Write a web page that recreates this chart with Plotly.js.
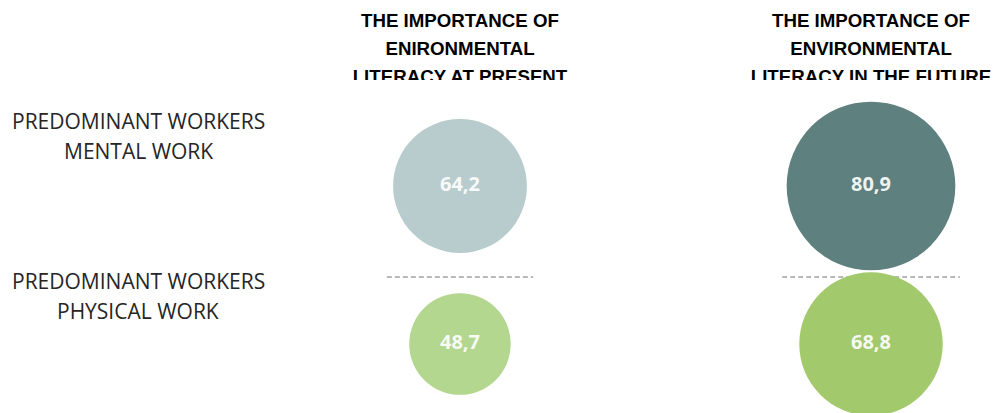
<!DOCTYPE html>
<html>
<head>
<meta charset="utf-8">
<script src="https://cdn.plot.ly/plotly-3.0.1.min.js"></script>
<style>html,body{margin:0;padding:0;background:#fff;}#chart{width:995px;height:413px;}</style>
</head>
<body>
<div id="chart"></div>
<script>
// ---- data ----
const columns = ["present", "future"];
const rows = ["mental", "physical"];
const headerPresent = ["THE IMPORTANCE OF", "ENIRONMENTAL", "LITERACY AT PRESENT"];
const headerFuture = ["THE IMPORTANCE OF", "ENVIRONMENTAL", "LITERACY IN THE FUTURE"];
const rowLabelMental = ["PREDOMINANT WORKERS", "MENTAL WORK"];
const rowLabelPhysical = ["PREDOMINANT WORKERS", "PHYSICAL WORK"];
const presentValues = [64.2, 48.7];   // mental, physical
const futureValues = [80.9, 68.8];    // mental, physical
const colors = {present: ["#b9cccd", "#b4d78f"], future: ["#5e807e", "#a3c96d"]};

// ---- helpers ----
const fmt = v => v.toFixed(1).replace(".", ",");
const rowY = {mental: 1, physical: 0};
const colX = {present: 0, future: 1};
const SIZEREF = 0.4796;

const traces = [];
[["present", presentValues], ["future", futureValues]].forEach(([col, vals]) => {
  traces.push({
    type: "scatter",
    mode: "markers+text",
    x: rows.map(() => colX[col]),
    y: rows.map(r => rowY[r]),
    text: vals.map(fmt),
    textposition: "middle center",
    textfont: {family: "Open Sans, sans-serif", size: 20, color: "rgba(255,255,255,0.92)", weight: 700},
    marker: {size: vals, sizemode: "diameter", sizeref: SIZEREF, color: colors[col], line: {width: 0}, opacity: 1},
    cliponaxis: false,
    hoverinfo: "skip",
    showlegend: false
  });
});

// header text (clipped by its own subplot, like the reference)
[["present", headerPresent], ["future", headerFuture]].forEach(([col, lines]) => {
  traces.push({
    type: "scatter",
    mode: "text",
    xaxis: "x",
    yaxis: "y2",
    x: lines.map(() => colX[col]),
    y: lines.map((_, i) => i),
    text: lines.map(s => "<b>" + s + "</b>"),
    textposition: "middle center",
    textfont: {family: "Liberation Sans, Arial, sans-serif", size: 18.7, color: "#000000"},
    cliponaxis: true,
    hoverinfo: "skip",
    showlegend: false
  });
});

// row labels as annotations
const annotations = [];
const rowLabelPx = {mental: [121, 151], physical: [281, 311]};
[["mental", rowLabelMental], ["physical", rowLabelPhysical]].forEach(([r, lines]) => {
  lines.forEach((t, i) => {
    annotations.push({
      xref: "paper", yref: "paper",
      x: 138 / 995, y: 1 - rowLabelPx[r][i] / 413,
      xanchor: "center", yanchor: "middle",
      text: t, showarrow: false,
      font: {family: "Open Sans, sans-serif", size: 21, color: "#262626"}
    });
  });
});

// dashed separators
const sepY = 0.4241;
const shapes = [
  {type: "line", xref: "x", yref: "y", x0: -0.178, x1: 0.178, y0: sepY, y1: sepY,
   line: {color: "#b8b8b8", width: 2, dash: "5px,3px"}, layer: "below"},
  {type: "line", xref: "x", yref: "y", x0: 1 - 0.216, x1: 1 + 0.216, y0: sepY, y1: sepY,
   line: {color: "#b8b8b8", width: 2, dash: "5px,3px"}, layer: "below"}
];

const layout = {
  width: 995, height: 413,
  margin: {l: 0, r: 0, t: 0, b: 0, pad: 0},
  paper_bgcolor: "#ffffff", plot_bgcolor: "rgba(0,0,0,0)",
  showlegend: false,
  xaxis: {range: [-1.1192, 1.3017], visible: false, fixedrange: true},
  yaxis: {range: [-0.4367, 2.1772], visible: false, fixedrange: true, domain: [0, 1]},
  yaxis2: {range: [2.071, -0.786], visible: false, fixedrange: true, domain: [1 - 80 / 413, 1], anchor: "x"},
  annotations: annotations,
  shapes: shapes,
  hovermode: false
};

Plotly.newPlot("chart", traces, layout, {displayModeBar: false, staticPlot: true});
</script>
</body>
</html>
